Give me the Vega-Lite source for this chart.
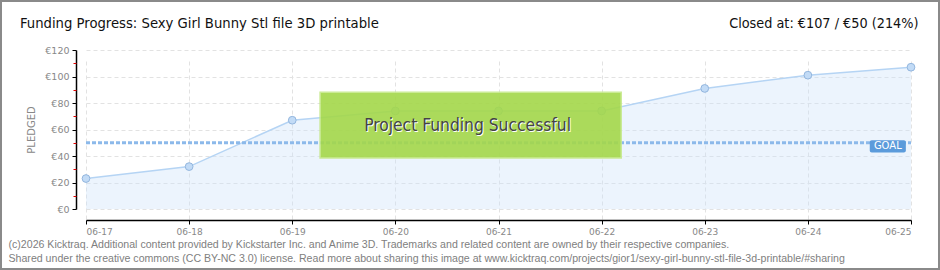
{
  "$schema": "https://vega.github.io/schema/vega-lite/v6.json",
  "width": 940,
  "height": 270,
  "autosize": {"type": "none"},
  "padding": 0,
  "background": "white",
  "config": {
    "view": {"stroke": "#8a8a8a", "strokeWidth": 4},
    "font": "Liberation Sans"
  },
  "title": {
    "text": "Funding Progress: Sexy Girl Bunny Stl file 3D printable",
    "anchor": "start",
    "frame": "group",
    "orient": "top",
    "offset": -43,
    "dx": 20,
    "baseline": "alphabetic",
    "fontSize": 14.7,
    "font": "DejaVu Sans Condensed, Liberation Sans Narrow, Roboto, sans-serif",
    "fontWeight": "normal",
    "color": "#111111"
  },
  "datasets": {
    "pledges": [
      {"day": 17, "pledged": 23},
      {"day": 18, "pledged": 32},
      {"day": 19, "pledged": 67},
      {"day": 20, "pledged": 74},
      {"day": 21, "pledged": 74},
      {"day": 22, "pledged": 74},
      {"day": 23, "pledged": 91},
      {"day": 24, "pledged": 101},
      {"day": 25, "pledged": 107}
    ],
    "one": [{}]
  },
  "resolve": {"axis": {"x": "independent", "y": "independent"}},
  "layer": [
    {
      "data": {"name": "pledges"},
      "mark": {"type": "area", "color": "#cfe3fa", "opacity": 0.4},
      "encoding": {
        "x": {
          "field": "day", "type": "quantitative",
          "scale": {"domain": [17, 25], "range": [86, 911], "nice": false, "zero": false},
          "axis": {
            "orient": "bottom", "offset": -50,
            "values": [17, 18, 19, 20, 21, 22, 23, 24, 25],
            "labelExpr": "'06-' + datum.value",
            "labelColor": "#888888", "labelFontSize": 9, "labelFont": "DejaVu Sans", "labelPadding": 3,
            "tickSize": 4, "tickColor": "#000000", "domainColor": "#000000", "domainWidth": 1.5,
            "grid": true, "gridColor": "#e2e2e2", "gridDash": [4, 3],
            "title": [
              "(c)2026 Kicktraq. Additional content provided by Kickstarter Inc. and Anime 3D. Trademarks and related content are owned by their respective companies.",
              "Shared under the creative commons (CC BY-NC 3.0) license. Read more about sharing this image at www.kicktraq.com/projects/gior1/sexy-girl-bunny-stl-file-3d-printable/#sharing"
            ],
            "titleAnchor": "start", "titleAlign": "left", "titleX": 8, "titleY": 27,
            "titleBaseline": "alphabetic", "titleFontSize": 10.6, "titleColor": "#808080",
            "titleFontWeight": "normal", "titleLineHeight": 14, "titleFont": "Liberation Sans"
          }
        },
        "y": {
          "field": "pledged", "type": "quantitative",
          "scale": {"domain": [0, 120], "range": [209, 50], "nice": false},
          "axis": {
            "orient": "left", "offset": -76,
            "values": [0, 20, 40, 60, 80, 100, 120],
            "labelExpr": "'€' + datum.value",
            "labelColor": "#888888", "labelFontSize": 9.5, "labelFont": "DejaVu Sans", "labelPadding": 3,
            "tickSize": 4, "tickColor": "#000000", "domainColor": "#000000", "domainWidth": 1.5,
            "grid": true, "gridColor": "#e2e2e2", "gridDash": [4, 3],
            "title": "PLEDGED", "titleFontSize": 10, "titleColor": "#888888", "titleFontWeight": "normal",
            "titleFont": "DejaVu Sans", "titlePadding": 8
          }
        }
      }
    },
    {
      "data": {"name": "pledges"},
      "mark": {"type": "line", "color": "#b5d4f4", "strokeWidth": 1.5},
      "encoding": {
        "x": {"field": "day", "type": "quantitative", "axis": null},
        "y": {"field": "pledged", "type": "quantitative", "axis": null}
      }
    },
    {
      "data": {"name": "pledges"},
      "mark": {"type": "circle", "size": 60, "color": "#c2dbf6", "opacity": 1, "stroke": "#93b6de", "strokeWidth": 1},
      "encoding": {
        "x": {"field": "day", "type": "quantitative", "axis": null},
        "y": {"field": "pledged", "type": "quantitative", "axis": null}
      }
    },
    {
      "data": {"name": "one"},
      "mark": {"type": "rule", "color": "#8cb9ea", "strokeWidth": 3, "strokeDash": [4, 2]},
      "encoding": {
        "x": {
          "datum": 17,
          "axis": {
            "orient": "top", "labels": false, "ticks": false, "domain": false, "grid": false,
            "title": "Closed at:  €107 /  €50 (214%)",
            "titleX": 918, "titleY": 27, "titleAlign": "right", "titleAnchor": null,
            "titleBaseline": "alphabetic", "titleFontSize": 14.3,
            "titleFont": "DejaVu Sans Condensed, Liberation Sans Narrow, Roboto, sans-serif",
            "titleFontWeight": "normal", "titleColor": "#111111"
          }
        },
        "x2": {"datum": 25},
        "y": {
          "datum": 50,
          "axis": {
            "orient": "left", "offset": -76,
            "values": [10, 30, 50, 70, 90, 110],
            "labels": false, "domain": false, "grid": false,
            "tickColor": "#e00000", "tickSize": 3, "title": null
          }
        }
      }
    },
    {
      "data": {"name": "one"},
      "mark": {"type": "rect", "color": "#a4d84a", "opacity": 0.9, "stroke": "#c6e98a", "strokeWidth": 1.5},
      "encoding": {
        "x": {"datum": 19.27, "axis": null},
        "x2": {"datum": 22.19},
        "y": {"datum": 88.1, "axis": null},
        "y2": {"datum": 38.4}
      }
    },
    {
      "data": {"name": "one"},
      "mark": {"type": "text", "text": "Project Funding Successful", "color": "#ffffff", "fontSize": 17.3, "font": "DejaVu Sans Condensed, Liberation Sans Narrow, Roboto, sans-serif", "dx": 1, "dy": 1},
      "encoding": {
        "x": {"datum": 20.7, "axis": null},
        "y": {"datum": 62.5, "axis": null}
      }
    },
    {
      "data": {"name": "one"},
      "mark": {"type": "text", "text": "Project Funding Successful", "color": "#444444", "fontSize": 17.3, "font": "DejaVu Sans Condensed, Liberation Sans Narrow, Roboto, sans-serif"},
      "encoding": {
        "x": {"datum": 20.7, "axis": null},
        "y": {"datum": 62.5, "axis": null}
      }
    },
    {
      "data": {"name": "one"},
      "mark": {"type": "rect", "color": "#5b9bdb", "cornerRadius": 2},
      "encoding": {
        "x": {"datum": 24.6, "axis": null},
        "x2": {"datum": 24.95},
        "y": {"datum": 51.8, "axis": null},
        "y2": {"datum": 42.6}
      }
    },
    {
      "data": {"name": "one"},
      "mark": {"type": "text", "text": "GOAL", "color": "#ffffff", "fontSize": 10, "font": "DejaVu Sans"},
      "encoding": {
        "x": {"datum": 24.775, "axis": null},
        "y": {"datum": 47.2, "axis": null}
      }
    }
  ]
}
